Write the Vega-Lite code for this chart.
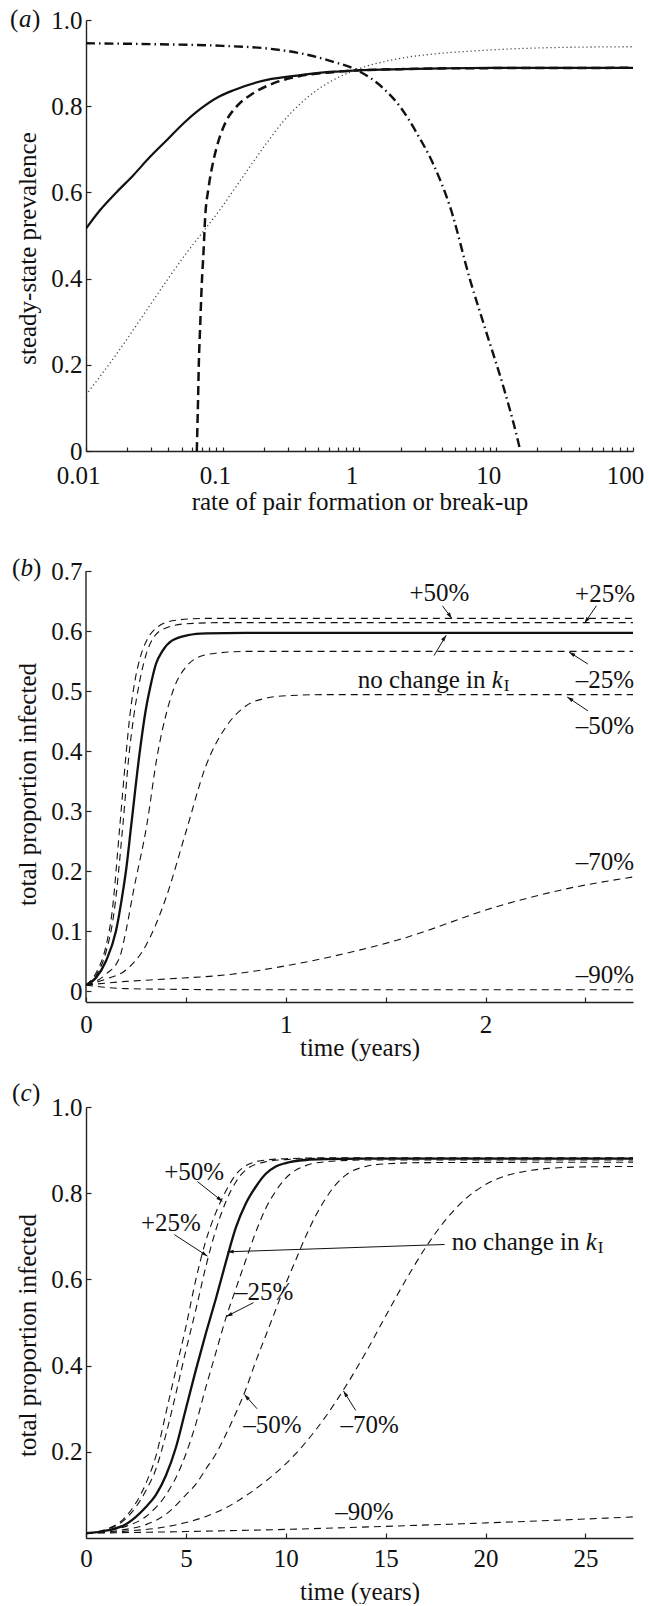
{
  "$schema": "https://vega.github.io/schema/vega-lite/v6.json",
  "background": "white",
  "padding": {"left": 10, "top": 7, "right": 0, "bottom": 0},
  "config": {
    "font": "Liberation Serif",
    "view": {"stroke": null},
    "axis": {
      "labelFont": "Liberation Serif", "labelFontSize": 25, "labelColor": "#111",
      "titleFont": "Liberation Serif", "titleFontSize": 25, "titleFontWeight": "normal", "titleColor": "#111",
      "domainColor": "#222", "domainWidth": 1.4, "tickColor": "#222", "tickWidth": 1.2, "tickSize": -5,
      "grid": false, "labelPadding": 9, "labelOverlap": false, "labelFlush": false, "labelBound": false
    },
    "axisX": {"labelPadding": 15, "titleBaseline": "middle", "titleAlign": "center"},
    "axisY": {"labelPadding": 9, "titleAngle": 270, "titleBaseline": "middle", "titleAlign": "center", "titleX": -59},
    "line": {"interpolate": "monotone"},
    "text": {"font": "Liberation Serif", "fontSize": 25, "color": "#111"}
  },
  "datasets": {
    "panels": [{"p": "a"}, {"p": "b"}, {"p": "c"}],
    "a": [
      {"s": "solid", "x": 0.01, "y": 0.516}, {"s": "solid", "x": 0.0126, "y": 0.558}, {"s": "solid", "x": 0.0168, "y": 0.601},
      {"s": "solid", "x": 0.0222, "y": 0.64}, {"s": "solid", "x": 0.0293, "y": 0.682}, {"s": "solid", "x": 0.0389, "y": 0.721},
      {"s": "solid", "x": 0.0515, "y": 0.76}, {"s": "solid", "x": 0.0682, "y": 0.793}, {"s": "solid", "x": 0.095, "y": 0.823},
      {"s": "solid", "x": 0.12, "y": 0.837}, {"s": "solid", "x": 0.21, "y": 0.861}, {"s": "solid", "x": 0.37, "y": 0.872},
      {"s": "solid", "x": 0.64, "y": 0.88}, {"s": "solid", "x": 0.95, "y": 0.883}, {"s": "solid", "x": 2.0, "y": 0.886},
      {"s": "solid", "x": 4.6, "y": 0.888}, {"s": "solid", "x": 10, "y": 0.889}, {"s": "solid", "x": 100, "y": 0.889},
      {"s": "dashed", "x": 0.0646, "y": 0.0}, {"s": "dashed", "x": 0.0652, "y": 0.05}, {"s": "dashed", "x": 0.066, "y": 0.12},
      {"s": "dashed", "x": 0.0668, "y": 0.2}, {"s": "dashed", "x": 0.0682, "y": 0.28}, {"s": "dashed", "x": 0.0703, "y": 0.39},
      {"s": "dashed", "x": 0.0723, "y": 0.46}, {"s": "dashed", "x": 0.0743, "y": 0.54}, {"s": "dashed", "x": 0.0787, "y": 0.61},
      {"s": "dashed", "x": 0.085, "y": 0.67}, {"s": "dashed", "x": 0.0905, "y": 0.706}, {"s": "dashed", "x": 0.0954, "y": 0.73},
      {"s": "dashed", "x": 0.107, "y": 0.768}, {"s": "dashed", "x": 0.126, "y": 0.799}, {"s": "dashed", "x": 0.167, "y": 0.83},
      {"s": "dashed", "x": 0.234, "y": 0.853}, {"s": "dashed", "x": 0.367, "y": 0.87}, {"s": "dashed", "x": 0.64, "y": 0.879},
      {"s": "dashed", "x": 0.95, "y": 0.883}, {"s": "dashed", "x": 2.0, "y": 0.886}, {"s": "dashed", "x": 5, "y": 0.888},
      {"s": "dashed", "x": 100, "y": 0.889},
      {"s": "dotted", "x": 0.01, "y": 0.13}, {"s": "dotted", "x": 0.0168, "y": 0.226}, {"s": "dotted", "x": 0.0262, "y": 0.315},
      {"s": "dotted", "x": 0.0389, "y": 0.395}, {"s": "dotted", "x": 0.0545, "y": 0.46}, {"s": "dotted", "x": 0.0723, "y": 0.51},
      {"s": "dotted", "x": 0.0954, "y": 0.56}, {"s": "dotted", "x": 0.12, "y": 0.605}, {"s": "dotted", "x": 0.158, "y": 0.66},
      {"s": "dotted", "x": 0.21, "y": 0.715}, {"s": "dotted", "x": 0.2775, "y": 0.765}, {"s": "dotted", "x": 0.367, "y": 0.805},
      {"s": "dotted", "x": 0.487, "y": 0.837}, {"s": "dotted", "x": 0.644, "y": 0.861}, {"s": "dotted", "x": 0.853, "y": 0.879},
      {"s": "dotted", "x": 1.13, "y": 0.893}, {"s": "dotted", "x": 1.5, "y": 0.903}, {"s": "dotted", "x": 1.98, "y": 0.911},
      {"s": "dotted", "x": 3.47, "y": 0.921}, {"s": "dotted", "x": 8.5, "y": 0.93}, {"s": "dotted", "x": 26, "y": 0.936},
      {"s": "dotted", "x": 100, "y": 0.938},
      {"s": "dashdot", "x": 0.01, "y": 0.946}, {"s": "dashdot", "x": 0.03, "y": 0.944}, {"s": "dashdot", "x": 0.1, "y": 0.94},
      {"s": "dashdot", "x": 0.21, "y": 0.934}, {"s": "dashdot", "x": 0.367, "y": 0.923}, {"s": "dashdot", "x": 0.644, "y": 0.903},
      {"s": "dashdot", "x": 0.955, "y": 0.884}, {"s": "dashdot", "x": 1.5, "y": 0.841}, {"s": "dashdot", "x": 1.98, "y": 0.799},
      {"s": "dashdot", "x": 2.63, "y": 0.737}, {"s": "dashdot", "x": 3.47, "y": 0.665}, {"s": "dashdot", "x": 4.6, "y": 0.566},
      {"s": "dashdot", "x": 6.45, "y": 0.396}, {"s": "dashdot", "x": 8.53, "y": 0.272}, {"s": "dashdot", "x": 11.3, "y": 0.148},
      {"s": "dashdot", "x": 14.2, "y": 0.032}, {"s": "dashdot", "x": 15.0, "y": 0.0}
    ],
    "b": [
      {"s": "base", "t": 0, "v": 0.01}, {"s": "base", "t": 0.05, "v": 0.022}, {"s": "base", "t": 0.1, "v": 0.05},
      {"s": "base", "t": 0.15, "v": 0.1}, {"s": "base", "t": 0.184, "v": 0.164}, {"s": "base", "t": 0.2, "v": 0.2},
      {"s": "base", "t": 0.227, "v": 0.278}, {"s": "base", "t": 0.267, "v": 0.393}, {"s": "base", "t": 0.3, "v": 0.47},
      {"s": "base", "t": 0.322, "v": 0.507}, {"s": "base", "t": 0.35, "v": 0.545}, {"s": "base", "t": 0.383, "v": 0.567},
      {"s": "base", "t": 0.43, "v": 0.584}, {"s": "base", "t": 0.51, "v": 0.593}, {"s": "base", "t": 0.6, "v": 0.596},
      {"s": "base", "t": 0.8, "v": 0.597}, {"s": "base", "t": 2.738, "v": 0.597},
      {"s": "p50", "t": 0, "v": 0.01}, {"s": "p50", "t": 0.05, "v": 0.03}, {"s": "p50", "t": 0.1, "v": 0.075},
      {"s": "p50", "t": 0.13, "v": 0.13}, {"s": "p50", "t": 0.17, "v": 0.278}, {"s": "p50", "t": 0.2, "v": 0.393},
      {"s": "p50", "t": 0.22, "v": 0.46}, {"s": "p50", "t": 0.245, "v": 0.517}, {"s": "p50", "t": 0.275, "v": 0.56},
      {"s": "p50", "t": 0.305, "v": 0.585}, {"s": "p50", "t": 0.36, "v": 0.607}, {"s": "p50", "t": 0.45, "v": 0.618},
      {"s": "p50", "t": 0.6, "v": 0.621}, {"s": "p50", "t": 2.738, "v": 0.621},
      {"s": "p25", "t": 0, "v": 0.01}, {"s": "p25", "t": 0.05, "v": 0.026}, {"s": "p25", "t": 0.1, "v": 0.065},
      {"s": "p25", "t": 0.14, "v": 0.13}, {"s": "p25", "t": 0.185, "v": 0.278}, {"s": "p25", "t": 0.215, "v": 0.393},
      {"s": "p25", "t": 0.24, "v": 0.46}, {"s": "p25", "t": 0.265, "v": 0.51}, {"s": "p25", "t": 0.3, "v": 0.56},
      {"s": "p25", "t": 0.34, "v": 0.59}, {"s": "p25", "t": 0.4, "v": 0.605}, {"s": "p25", "t": 0.5, "v": 0.612},
      {"s": "p25", "t": 0.7, "v": 0.614}, {"s": "p25", "t": 2.738, "v": 0.614},
      {"s": "m25", "t": 0, "v": 0.01}, {"s": "m25", "t": 0.1, "v": 0.028}, {"s": "m25", "t": 0.167, "v": 0.055},
      {"s": "m25", "t": 0.2, "v": 0.1}, {"s": "m25", "t": 0.236, "v": 0.164}, {"s": "m25", "t": 0.305, "v": 0.278},
      {"s": "m25", "t": 0.357, "v": 0.393}, {"s": "m25", "t": 0.4, "v": 0.46}, {"s": "m25", "t": 0.443, "v": 0.507},
      {"s": "m25", "t": 0.5, "v": 0.54}, {"s": "m25", "t": 0.56, "v": 0.556}, {"s": "m25", "t": 0.65, "v": 0.563},
      {"s": "m25", "t": 0.8, "v": 0.566}, {"s": "m25", "t": 2.738, "v": 0.566},
      {"s": "m50", "t": 0, "v": 0.01}, {"s": "m50", "t": 0.1, "v": 0.02}, {"s": "m50", "t": 0.2, "v": 0.035},
      {"s": "m50", "t": 0.3, "v": 0.076}, {"s": "m50", "t": 0.4, "v": 0.155}, {"s": "m50", "t": 0.5, "v": 0.265},
      {"s": "m50", "t": 0.6, "v": 0.375}, {"s": "m50", "t": 0.7, "v": 0.44}, {"s": "m50", "t": 0.8, "v": 0.475},
      {"s": "m50", "t": 0.9, "v": 0.488}, {"s": "m50", "t": 1.0, "v": 0.492}, {"s": "m50", "t": 1.2, "v": 0.494},
      {"s": "m50", "t": 2.738, "v": 0.494},
      {"s": "m70", "t": 0, "v": 0.01}, {"s": "m70", "t": 0.2, "v": 0.016}, {"s": "m70", "t": 0.4, "v": 0.02},
      {"s": "m70", "t": 0.73, "v": 0.028}, {"s": "m70", "t": 1.0, "v": 0.042}, {"s": "m70", "t": 1.21, "v": 0.056},
      {"s": "m70", "t": 1.56, "v": 0.085}, {"s": "m70", "t": 2.08, "v": 0.143}, {"s": "m70", "t": 2.4, "v": 0.17},
      {"s": "m70", "t": 2.738, "v": 0.19},
      {"s": "m90", "t": 0, "v": 0.01}, {"s": "m90", "t": 0.1, "v": 0.006}, {"s": "m90", "t": 0.2, "v": 0.004},
      {"s": "m90", "t": 0.4, "v": 0.003}, {"s": "m90", "t": 0.8, "v": 0.002}, {"s": "m90", "t": 2.738, "v": 0.002}
    ],
    "c": [
      {"s": "base", "t": 0, "v": 0.011}, {"s": "base", "t": 1, "v": 0.017}, {"s": "base", "t": 2, "v": 0.032},
      {"s": "base", "t": 3, "v": 0.072}, {"s": "base", "t": 3.5, "v": 0.1}, {"s": "base", "t": 4, "v": 0.145},
      {"s": "base", "t": 4.5, "v": 0.21}, {"s": "base", "t": 5, "v": 0.3}, {"s": "base", "t": 5.5, "v": 0.39},
      {"s": "base", "t": 6, "v": 0.475}, {"s": "base", "t": 6.5, "v": 0.555}, {"s": "base", "t": 7, "v": 0.64},
      {"s": "base", "t": 7.5, "v": 0.72}, {"s": "base", "t": 8, "v": 0.776}, {"s": "base", "t": 8.5, "v": 0.815},
      {"s": "base", "t": 9, "v": 0.845}, {"s": "base", "t": 9.5, "v": 0.862}, {"s": "base", "t": 10, "v": 0.87},
      {"s": "base", "t": 11, "v": 0.877}, {"s": "base", "t": 12, "v": 0.879}, {"s": "base", "t": 14, "v": 0.88},
      {"s": "base", "t": 27.38, "v": 0.88},
      {"s": "p50", "t": 0, "v": 0.011}, {"s": "p50", "t": 1, "v": 0.02}, {"s": "p50", "t": 2, "v": 0.05},
      {"s": "p50", "t": 3, "v": 0.127}, {"s": "p50", "t": 3.5, "v": 0.19}, {"s": "p50", "t": 4, "v": 0.29},
      {"s": "p50", "t": 4.5, "v": 0.39}, {"s": "p50", "t": 5, "v": 0.49}, {"s": "p50", "t": 5.5, "v": 0.6},
      {"s": "p50", "t": 6, "v": 0.69}, {"s": "p50", "t": 6.5, "v": 0.755}, {"s": "p50", "t": 7, "v": 0.805},
      {"s": "p50", "t": 7.5, "v": 0.843}, {"s": "p50", "t": 8, "v": 0.864}, {"s": "p50", "t": 9, "v": 0.877},
      {"s": "p50", "t": 10, "v": 0.88}, {"s": "p50", "t": 12, "v": 0.882}, {"s": "p50", "t": 27.38, "v": 0.882},
      {"s": "p25", "t": 0, "v": 0.011}, {"s": "p25", "t": 1, "v": 0.019}, {"s": "p25", "t": 2, "v": 0.045},
      {"s": "p25", "t": 3, "v": 0.11}, {"s": "p25", "t": 3.5, "v": 0.16}, {"s": "p25", "t": 4, "v": 0.24},
      {"s": "p25", "t": 4.5, "v": 0.335}, {"s": "p25", "t": 5, "v": 0.435}, {"s": "p25", "t": 5.5, "v": 0.53},
      {"s": "p25", "t": 6, "v": 0.63}, {"s": "p25", "t": 6.5, "v": 0.715}, {"s": "p25", "t": 7, "v": 0.78},
      {"s": "p25", "t": 7.5, "v": 0.826}, {"s": "p25", "t": 8, "v": 0.854}, {"s": "p25", "t": 9, "v": 0.873},
      {"s": "p25", "t": 10, "v": 0.878}, {"s": "p25", "t": 12, "v": 0.881}, {"s": "p25", "t": 27.38, "v": 0.881},
      {"s": "m25", "t": 0, "v": 0.011}, {"s": "m25", "t": 1, "v": 0.016}, {"s": "m25", "t": 2, "v": 0.027},
      {"s": "m25", "t": 3, "v": 0.05}, {"s": "m25", "t": 4, "v": 0.1}, {"s": "m25", "t": 4.5, "v": 0.14},
      {"s": "m25", "t": 5, "v": 0.195}, {"s": "m25", "t": 5.5, "v": 0.265}, {"s": "m25", "t": 6, "v": 0.35},
      {"s": "m25", "t": 6.5, "v": 0.43}, {"s": "m25", "t": 7, "v": 0.51}, {"s": "m25", "t": 7.5, "v": 0.578},
      {"s": "m25", "t": 8, "v": 0.645}, {"s": "m25", "t": 8.5, "v": 0.71}, {"s": "m25", "t": 9, "v": 0.765},
      {"s": "m25", "t": 9.5, "v": 0.805}, {"s": "m25", "t": 10, "v": 0.835}, {"s": "m25", "t": 11, "v": 0.864},
      {"s": "m25", "t": 12, "v": 0.873}, {"s": "m25", "t": 14, "v": 0.877}, {"s": "m25", "t": 27.38, "v": 0.877},
      {"s": "m50", "t": 0, "v": 0.011}, {"s": "m50", "t": 1, "v": 0.014}, {"s": "m50", "t": 2, "v": 0.02},
      {"s": "m50", "t": 3, "v": 0.031}, {"s": "m50", "t": 4, "v": 0.055}, {"s": "m50", "t": 5, "v": 0.1},
      {"s": "m50", "t": 5.5, "v": 0.125}, {"s": "m50", "t": 6, "v": 0.16}, {"s": "m50", "t": 6.5, "v": 0.195},
      {"s": "m50", "t": 7, "v": 0.24}, {"s": "m50", "t": 7.5, "v": 0.29}, {"s": "m50", "t": 8, "v": 0.345},
      {"s": "m50", "t": 8.5, "v": 0.41}, {"s": "m50", "t": 9, "v": 0.47}, {"s": "m50", "t": 9.5, "v": 0.53},
      {"s": "m50", "t": 10, "v": 0.59}, {"s": "m50", "t": 10.5, "v": 0.645}, {"s": "m50", "t": 11, "v": 0.7},
      {"s": "m50", "t": 11.5, "v": 0.748}, {"s": "m50", "t": 12, "v": 0.788}, {"s": "m50", "t": 12.5, "v": 0.82},
      {"s": "m50", "t": 13, "v": 0.842}, {"s": "m50", "t": 14, "v": 0.862}, {"s": "m50", "t": 15, "v": 0.868},
      {"s": "m50", "t": 17, "v": 0.871}, {"s": "m50", "t": 27.38, "v": 0.872},
      {"s": "m70", "t": 0, "v": 0.011}, {"s": "m70", "t": 2, "v": 0.016}, {"s": "m70", "t": 4, "v": 0.026},
      {"s": "m70", "t": 6, "v": 0.05}, {"s": "m70", "t": 7, "v": 0.07}, {"s": "m70", "t": 8, "v": 0.098},
      {"s": "m70", "t": 9, "v": 0.132}, {"s": "m70", "t": 10, "v": 0.172}, {"s": "m70", "t": 11, "v": 0.222},
      {"s": "m70", "t": 12, "v": 0.282}, {"s": "m70", "t": 13, "v": 0.352}, {"s": "m70", "t": 14, "v": 0.43},
      {"s": "m70", "t": 15, "v": 0.515}, {"s": "m70", "t": 16, "v": 0.598}, {"s": "m70", "t": 17, "v": 0.674},
      {"s": "m70", "t": 18, "v": 0.738}, {"s": "m70", "t": 19, "v": 0.787}, {"s": "m70", "t": 20, "v": 0.82},
      {"s": "m70", "t": 21, "v": 0.84}, {"s": "m70", "t": 22, "v": 0.851}, {"s": "m70", "t": 23, "v": 0.857},
      {"s": "m70", "t": 25, "v": 0.861}, {"s": "m70", "t": 27.38, "v": 0.862},
      {"s": "m90", "t": 0, "v": 0.011}, {"s": "m90", "t": 5, "v": 0.015}, {"s": "m90", "t": 10, "v": 0.02},
      {"s": "m90", "t": 15, "v": 0.027}, {"s": "m90", "t": 20, "v": 0.035}, {"s": "m90", "t": 25, "v": 0.044},
      {"s": "m90", "t": 27.38, "v": 0.049}
    ],
    "blab": [
      {"t": 1.769, "v": 0.663, "txt": "+50%"}, {"t": 2.598, "v": 0.662, "txt": "+25%"},
      {"t": 2.598, "v": 0.519, "txt": "–25%"}, {"t": 2.598, "v": 0.4415, "txt": "–50%"},
      {"t": 2.598, "v": 0.2156, "txt": "–70%"}, {"t": 2.598, "v": 0.0267, "txt": "–90%"}
    ],
    "clab": [
      {"t": 5.415, "v": 0.85, "txt": "+50%"}, {"t": 4.25, "v": 0.7306, "txt": "+25%"},
      {"t": 8.915, "v": 0.5707, "txt": "–25%"}, {"t": 9.33, "v": 0.263, "txt": "–50%"},
      {"t": 14.2, "v": 0.263, "txt": "–70%"}, {"t": 13.93, "v": 0.06, "txt": "–90%"}
    ],
    "nochange": [{"p": "b", "t": 1.36, "v": 0.519}, {"p": "c", "t": 18.31, "v": 0.687}],
    "barr": [
      {"id": "p50", "t": 1.784, "v": 0.642, "t2": 1.831, "v2": 0.621},
      {"id": "p25", "t": 2.555, "v": 0.642, "t2": 2.495, "v2": 0.613},
      {"id": "nc", "t": 1.742, "v": 0.559, "t2": 1.803, "v2": 0.593},
      {"id": "m25", "t": 2.512, "v": 0.545, "t2": 2.418, "v2": 0.565},
      {"id": "m50", "t": 2.512, "v": 0.467, "t2": 2.409, "v2": 0.49}
    ],
    "carr": [
      {"id": "p50", "t": 5.58, "v": 0.827, "t2": 6.83, "v2": 0.781},
      {"id": "p25", "t": 4.42, "v": 0.704, "t2": 6.08, "v2": 0.654},
      {"id": "nc", "t": 17.95, "v": 0.681, "t2": 7.08, "v2": 0.664},
      {"id": "m25", "t": 8.38, "v": 0.546, "t2": 7.03, "v2": 0.514},
      {"id": "m50", "t": 8.56, "v": 0.3, "t2": 7.93, "v2": 0.333},
      {"id": "m70", "t": 13.5, "v": 0.296, "t2": 12.89, "v2": 0.341}
    ]
  },
  "spacing": 105,
  "bounds": "flush",
  "vconcat": [
    {
      "width": 547, "height": 431,
      "layer": [
        {
          "data": {"name": "a"},
          "transform": [{"filter": "datum.s === 'solid'"}],
          "mark": {"type": "line", "color": "#111", "strokeWidth": 2.2, "clip": true},
          "encoding": {
            "x": {"field": "x", "type": "quantitative",
              "scale": {"type": "log", "domain": [0.01, 100], "nice": false},
              "axis": {"title": "rate of pair formation or break-up", "titleY": 50, "labelPadding": 16, "labelOffset": -8,
                "values": [0.01, 0.02, 0.03, 0.04, 0.05, 0.06, 0.07, 0.08, 0.09, 0.1, 0.2, 0.3, 0.4, 0.5, 0.6, 0.7, 0.8, 0.9, 1, 2, 3, 4, 5, 6, 7, 8, 9, 10, 20, 30, 40, 50, 60, 70, 80, 90, 100],
                "format": "~g", "tickSize": -4,
                "labelExpr": "indexof([0.01, 0.1, 1, 10, 100], datum.value) >= 0 ? datum.label : ''"}},
            "y": {"field": "y", "type": "quantitative",
              "scale": {"domain": [0, 1], "nice": false, "zero": false},
              "axis": {"title": "steady-state prevalence", "titleY": 228,
                "values": [0, 0.2, 0.4, 0.6, 0.8, 1],
                "labelExpr": "datum.value === 0 ? '0' : format(datum.value, '.1f')"}}
          }
        },
        {
          "data": {"name": "a"},
          "transform": [{"filter": "datum.s === 'dashed'"}],
          "mark": {"type": "line", "color": "#111", "strokeWidth": 2.5, "strokeDash": [9, 5], "clip": true},
          "encoding": {"x": {"field": "x", "type": "quantitative"}, "y": {"field": "y", "type": "quantitative"}}
        },
        {
          "data": {"name": "a"},
          "transform": [{"filter": "datum.s === 'dotted'"}],
          "mark": {"type": "line", "color": "#444", "strokeWidth": 1.3, "strokeDash": [1.2, 2.8], "clip": true},
          "encoding": {"x": {"field": "x", "type": "quantitative"}, "y": {"field": "y", "type": "quantitative"}}
        },
        {
          "data": {"name": "a"},
          "transform": [{"filter": "datum.s === 'dashdot'"}],
          "mark": {"type": "line", "color": "#111", "strokeWidth": 2.4, "strokeDash": [9, 4, 1.5, 4], "clip": true},
          "encoding": {"x": {"field": "x", "type": "quantitative"}, "y": {"field": "y", "type": "quantitative"}}
        },
        {
          "data": {"name": "panels"},
          "transform": [{"filter": "datum.p === 'a'"}],
          "mark": {"type": "text", "align": "left", "baseline": "alphabetic", "dx": -76, "dy": 7, "fontSize": 25},
          "encoding": {"x": {"datum": 0.01, "type": "quantitative"}, "y": {"datum": 1, "type": "quantitative"}, "text": {"value": "("}}
        },
        {
          "data": {"name": "panels"},
          "transform": [{"filter": "datum.p === 'a'"}],
          "mark": {"type": "text", "align": "left", "baseline": "alphabetic", "dx": -67, "dy": 7, "fontSize": 25, "fontStyle": "italic"},
          "encoding": {"x": {"datum": 0.01, "type": "quantitative"}, "y": {"datum": 1, "type": "quantitative"}, "text": {"field": "p"}}
        },
        {
          "data": {"name": "panels"},
          "transform": [{"filter": "datum.p === 'a'"}],
          "mark": {"type": "text", "align": "left", "baseline": "alphabetic", "dx": -54, "dy": 7, "fontSize": 25},
          "encoding": {"x": {"datum": 0.01, "type": "quantitative"}, "y": {"datum": 1, "type": "quantitative"}, "text": {"value": ")"}}
        }
      ]
    },
    {
      "width": 547, "height": 446,
      "layer": [
        {
          "data": {"name": "b"},
          "transform": [{"filter": "datum.s !== 'base'"}],
          "mark": {"type": "line", "color": "#111", "strokeWidth": 1.1, "strokeDash": [7, 5], "clip": true},
          "encoding": {
            "x": {"field": "t", "type": "quantitative",
              "scale": {"domain": [0, 2.738], "nice": false, "zero": false},
              "axis": {"title": "time (years)", "titleY": 45, "labelPadding": 15, "values": [0, 0.5, 1, 1.5, 2, 2.5],
                "labelExpr": "datum.value % 1 === 0 ? format(datum.value, 'd') : ''"}},
            "y": {"field": "v", "type": "quantitative",
              "scale": {"domain": [-0.0183, 0.725], "nice": false, "zero": false},
              "axis": {"title": "total proportion infected", "titleY": 228, "domain": false,
                "values": [0, 0.1, 0.2, 0.3, 0.4, 0.5, 0.6, 0.7],
                "labelExpr": "datum.value === 0 ? '0' : format(datum.value, '.1f')"}},
            "detail": {"field": "s", "type": "nominal"}
          }
        },
        {
          "data": {"name": "panels"},
          "transform": [{"filter": "datum.p === 'b'"}],
          "mark": {"type": "rule", "color": "#222", "strokeWidth": 1.4},
          "encoding": {"x": {"datum": 0, "type": "quantitative"}, "y": {"datum": -0.0183, "type": "quantitative"}, "y2": {"datum": 0.7}}
        },
        {
          "data": {"name": "b"},
          "transform": [{"filter": "datum.s === 'base'"}],
          "mark": {"type": "line", "color": "#111", "strokeWidth": 2.3, "clip": true},
          "encoding": {"x": {"field": "t", "type": "quantitative"}, "y": {"field": "v", "type": "quantitative"}}
        },
        {
          "data": {"name": "barr"},
          "mark": {"type": "rule", "color": "#111", "strokeWidth": 1},
          "encoding": {"x": {"field": "t", "type": "quantitative"}, "y": {"field": "v", "type": "quantitative"}, "x2": {"field": "t2"}, "y2": {"field": "v2"}}
        },
        {
          "data": {"name": "barr"}, "transform": [{"filter": "datum.id === 'p50'"}],
          "mark": {"type": "point", "shape": "M0,0L0.5,1.6L-0.5,1.6Z", "filled": true, "color": "#111", "opacity": 1, "size": 60, "angle": 145},
          "encoding": {"x": {"field": "t2", "type": "quantitative"}, "y": {"field": "v2", "type": "quantitative"}}
        },
        {
          "data": {"name": "barr"}, "transform": [{"filter": "datum.id === 'p25'"}],
          "mark": {"type": "point", "shape": "M0,0L0.5,1.6L-0.5,1.6Z", "filled": true, "color": "#111", "opacity": 1, "size": 60, "angle": 215},
          "encoding": {"x": {"field": "t2", "type": "quantitative"}, "y": {"field": "v2", "type": "quantitative"}}
        },
        {
          "data": {"name": "barr"}, "transform": [{"filter": "datum.id === 'nc'"}],
          "mark": {"type": "point", "shape": "M0,0L0.5,1.6L-0.5,1.6Z", "filled": true, "color": "#111", "opacity": 1, "size": 60, "angle": 35},
          "encoding": {"x": {"field": "t2", "type": "quantitative"}, "y": {"field": "v2", "type": "quantitative"}}
        },
        {
          "data": {"name": "barr"}, "transform": [{"filter": "datum.id === 'm25'"}],
          "mark": {"type": "point", "shape": "M0,0L0.5,1.6L-0.5,1.6Z", "filled": true, "color": "#111", "opacity": 1, "size": 60, "angle": 302},
          "encoding": {"x": {"field": "t2", "type": "quantitative"}, "y": {"field": "v2", "type": "quantitative"}}
        },
        {
          "data": {"name": "barr"}, "transform": [{"filter": "datum.id === 'm50'"}],
          "mark": {"type": "point", "shape": "M0,0L0.5,1.6L-0.5,1.6Z", "filled": true, "color": "#111", "opacity": 1, "size": 60, "angle": 303},
          "encoding": {"x": {"field": "t2", "type": "quantitative"}, "y": {"field": "v2", "type": "quantitative"}}
        },
        {
          "data": {"name": "blab"},
          "mark": {"type": "text", "align": "center", "baseline": "middle", "fontSize": 25},
          "encoding": {"x": {"field": "t", "type": "quantitative"}, "y": {"field": "v", "type": "quantitative"}, "text": {"field": "txt"}}
        },
        {
          "data": {"name": "nochange"}, "transform": [{"filter": "datum.p === 'b'"}],
          "mark": {"type": "text", "align": "left", "baseline": "middle", "fontSize": 25},
          "encoding": {"x": {"field": "t", "type": "quantitative"}, "y": {"field": "v", "type": "quantitative"}, "text": {"value": "no change in"}}
        },
        {
          "data": {"name": "nochange"}, "transform": [{"filter": "datum.p === 'b'"}],
          "mark": {"type": "text", "align": "left", "baseline": "middle", "fontSize": 25, "fontStyle": "italic", "dx": 134},
          "encoding": {"x": {"field": "t", "type": "quantitative"}, "y": {"field": "v", "type": "quantitative"}, "text": {"value": "k"}}
        },
        {
          "data": {"name": "nochange"}, "transform": [{"filter": "datum.p === 'b'"}],
          "mark": {"type": "text", "align": "left", "baseline": "middle", "fontSize": 17, "dx": 146, "dy": 6},
          "encoding": {"x": {"field": "t", "type": "quantitative"}, "y": {"field": "v", "type": "quantitative"}, "text": {"value": "I"}}
        },
        {
          "data": {"name": "panels"}, "transform": [{"filter": "datum.p === 'b'"}],
          "mark": {"type": "text", "align": "left", "baseline": "alphabetic", "dx": -74, "dy": 5, "fontSize": 25},
          "encoding": {"x": {"datum": 0, "type": "quantitative"}, "y": {"datum": 0.7, "type": "quantitative"}, "text": {"value": "("}}
        },
        {
          "data": {"name": "panels"}, "transform": [{"filter": "datum.p === 'b'"}],
          "mark": {"type": "text", "align": "left", "baseline": "alphabetic", "dx": -65.5, "dy": 5, "fontSize": 25, "fontStyle": "italic"},
          "encoding": {"x": {"datum": 0, "type": "quantitative"}, "y": {"datum": 0.7, "type": "quantitative"}, "text": {"field": "p"}}
        },
        {
          "data": {"name": "panels"}, "transform": [{"filter": "datum.p === 'b'"}],
          "mark": {"type": "text", "align": "left", "baseline": "alphabetic", "dx": -53, "dy": 5, "fontSize": 25},
          "encoding": {"x": {"datum": 0, "type": "quantitative"}, "y": {"datum": 0.7, "type": "quantitative"}, "text": {"value": ")"}}
        }
      ]
    },
    {
      "width": 547, "height": 431,
      "layer": [
        {
          "data": {"name": "c"},
          "transform": [{"filter": "datum.s !== 'base'"}],
          "mark": {"type": "line", "color": "#111", "strokeWidth": 1.1, "strokeDash": [7, 5], "clip": true},
          "encoding": {
            "x": {"field": "t", "type": "quantitative",
              "scale": {"domain": [0, 27.38], "nice": false, "zero": false},
              "axis": {"title": "time (years)", "titleY": 53, "labelPadding": 13, "values": [0, 5, 10, 15, 20, 25], "format": "d"}},
            "y": {"field": "v", "type": "quantitative",
              "scale": {"domain": [0, 1], "nice": false, "zero": false},
              "axis": {"title": "total proportion infected", "titleY": 228,
                "values": [0.2, 0.4, 0.6, 0.8, 1], "format": ".1f"}},
            "detail": {"field": "s", "type": "nominal"}
          }
        },
        {
          "data": {"name": "c"},
          "transform": [{"filter": "datum.s === 'base'"}],
          "mark": {"type": "line", "color": "#111", "strokeWidth": 2.3, "clip": true},
          "encoding": {"x": {"field": "t", "type": "quantitative"}, "y": {"field": "v", "type": "quantitative"}}
        },
        {
          "data": {"name": "carr"},
          "mark": {"type": "rule", "color": "#111", "strokeWidth": 1},
          "encoding": {"x": {"field": "t", "type": "quantitative"}, "y": {"field": "v", "type": "quantitative"}, "x2": {"field": "t2"}, "y2": {"field": "v2"}}
        },
        {
          "data": {"name": "carr"}, "transform": [{"filter": "datum.id === 'p50'"}],
          "mark": {"type": "point", "shape": "M0,0L0.5,1.6L-0.5,1.6Z", "filled": true, "color": "#111", "opacity": 1, "size": 60, "angle": 128},
          "encoding": {"x": {"field": "t2", "type": "quantitative"}, "y": {"field": "v2", "type": "quantitative"}}
        },
        {
          "data": {"name": "carr"}, "transform": [{"filter": "datum.id === 'p25'"}],
          "mark": {"type": "point", "shape": "M0,0L0.5,1.6L-0.5,1.6Z", "filled": true, "color": "#111", "opacity": 1, "size": 60, "angle": 123},
          "encoding": {"x": {"field": "t2", "type": "quantitative"}, "y": {"field": "v2", "type": "quantitative"}}
        },
        {
          "data": {"name": "carr"}, "transform": [{"filter": "datum.id === 'nc'"}],
          "mark": {"type": "point", "shape": "M0,0L0.5,1.6L-0.5,1.6Z", "filled": true, "color": "#111", "opacity": 1, "size": 60, "angle": 268},
          "encoding": {"x": {"field": "t2", "type": "quantitative"}, "y": {"field": "v2", "type": "quantitative"}}
        },
        {
          "data": {"name": "carr"}, "transform": [{"filter": "datum.id === 'm25'"}],
          "mark": {"type": "point", "shape": "M0,0L0.5,1.6L-0.5,1.6Z", "filled": true, "color": "#111", "opacity": 1, "size": 60, "angle": 243},
          "encoding": {"x": {"field": "t2", "type": "quantitative"}, "y": {"field": "v2", "type": "quantitative"}}
        },
        {
          "data": {"name": "carr"}, "transform": [{"filter": "datum.id === 'm50'"}],
          "mark": {"type": "point", "shape": "M0,0L0.5,1.6L-0.5,1.6Z", "filled": true, "color": "#111", "opacity": 1, "size": 60, "angle": 319},
          "encoding": {"x": {"field": "t2", "type": "quantitative"}, "y": {"field": "v2", "type": "quantitative"}}
        },
        {
          "data": {"name": "carr"}, "transform": [{"filter": "datum.id === 'm70'"}],
          "mark": {"type": "point", "shape": "M0,0L0.5,1.6L-0.5,1.6Z", "filled": true, "color": "#111", "opacity": 1, "size": 60, "angle": 328},
          "encoding": {"x": {"field": "t2", "type": "quantitative"}, "y": {"field": "v2", "type": "quantitative"}}
        },
        {
          "data": {"name": "clab"},
          "mark": {"type": "text", "align": "center", "baseline": "middle", "fontSize": 25},
          "encoding": {"x": {"field": "t", "type": "quantitative"}, "y": {"field": "v", "type": "quantitative"}, "text": {"field": "txt"}}
        },
        {
          "data": {"name": "nochange"}, "transform": [{"filter": "datum.p === 'c'"}],
          "mark": {"type": "text", "align": "left", "baseline": "middle", "fontSize": 25},
          "encoding": {"x": {"field": "t", "type": "quantitative"}, "y": {"field": "v", "type": "quantitative"}, "text": {"value": "no change in"}}
        },
        {
          "data": {"name": "nochange"}, "transform": [{"filter": "datum.p === 'c'"}],
          "mark": {"type": "text", "align": "left", "baseline": "middle", "fontSize": 25, "fontStyle": "italic", "dx": 134},
          "encoding": {"x": {"field": "t", "type": "quantitative"}, "y": {"field": "v", "type": "quantitative"}, "text": {"value": "k"}}
        },
        {
          "data": {"name": "nochange"}, "transform": [{"filter": "datum.p === 'c'"}],
          "mark": {"type": "text", "align": "left", "baseline": "middle", "fontSize": 17, "dx": 146, "dy": 6},
          "encoding": {"x": {"field": "t", "type": "quantitative"}, "y": {"field": "v", "type": "quantitative"}, "text": {"value": "I"}}
        },
        {
          "data": {"name": "panels"}, "transform": [{"filter": "datum.p === 'c'"}],
          "mark": {"type": "text", "align": "left", "baseline": "alphabetic", "dx": -74, "dy": -6, "fontSize": 25},
          "encoding": {"x": {"datum": 0, "type": "quantitative"}, "y": {"datum": 1, "type": "quantitative"}, "text": {"value": "("}}
        },
        {
          "data": {"name": "panels"}, "transform": [{"filter": "datum.p === 'c'"}],
          "mark": {"type": "text", "align": "left", "baseline": "alphabetic", "dx": -65.5, "dy": -6, "fontSize": 25, "fontStyle": "italic"},
          "encoding": {"x": {"datum": 0, "type": "quantitative"}, "y": {"datum": 1, "type": "quantitative"}, "text": {"field": "p"}}
        },
        {
          "data": {"name": "panels"}, "transform": [{"filter": "datum.p === 'c'"}],
          "mark": {"type": "text", "align": "left", "baseline": "alphabetic", "dx": -54, "dy": -6, "fontSize": 25},
          "encoding": {"x": {"datum": 0, "type": "quantitative"}, "y": {"datum": 1, "type": "quantitative"}, "text": {"value": ")"}}
        }
      ]
    }
  ]
}
